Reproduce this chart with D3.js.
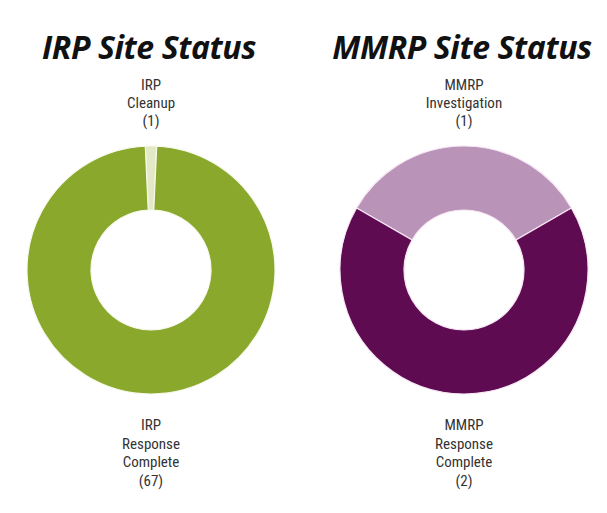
<!DOCTYPE html>
<html>
<head>
<meta charset="utf-8">
<script src="https://cdn.jsdelivr.net/npm/d3@7"></script>
<style>
  body { margin: 0; background: #fff; }
  svg text { fill: #222; }
</style>
</head>
<body>
<div id="chart"></div>
<script>
// Chart data
var irpCategories = ["IRP Cleanup", "IRP Response Complete"];
var irpValues = [1, 67];
var irpLabels = [["IRP", "Cleanup", "(1)"], ["IRP", "Response", "Complete", "(67)"]];

var mmrpCategories = ["MMRP Investigation", "MMRP Response Complete"];
var mmrpValues = [1, 2];
var mmrpLabels = [["MMRP", "Investigation", "(1)"], ["MMRP", "Response", "Complete", "(2)"]];

var titles = ["IRP Site Status", "MMRP Site Status"];

var width = 607, height = 513;

var svg = d3.select("#chart").append("svg")
    .attr("width", width)
    .attr("height", height);

// Draw one donut with title and labels
function drawDonut(cx, title, categories, values, labels, colors, strokeColor) {
    var cy = 270, outer = 124, inner = 60;

    svg.append("text")
        .attr("x", cx - 2)
        .attr("y", 59)
        .attr("text-anchor", "middle")
        .style("font-family", "'Open Sans', sans-serif")
        .style("font-weight", "bold")
        .style("font-style", "italic")
        .style("font-size", "32px")
        .style("letter-spacing", "-0.4px")
        .style("fill", "#111")
        .text(title);

    // first slice centred at the top
    var half = Math.PI * values[0] / d3.sum(values);
    var pie = d3.pie().sort(null).value(function(d) { return d; })
        .startAngle(-half).endAngle(2 * Math.PI - half);
    var arc = d3.arc().innerRadius(inner).outerRadius(outer);

    var g = svg.append("g").attr("transform", "translate(" + cx + "," + cy + ")");
    g.selectAll("path")
        .data(pie(values))
        .enter().append("path")
        .attr("d", arc)
        .attr("fill", function(d, i) { return colors[i]; })
        .attr("stroke", strokeColor)
        .attr("stroke-width", 1.2);

    // top label
    var top = svg.append("text")
        .attr("text-anchor", "middle")
        .style("font-family", "'Liberation Sans Narrow', 'Roboto Condensed', sans-serif")
        .style("font-size", "15px")
        .style("fill", "#333");
    labels[0].forEach(function(line, i) {
        top.append("tspan").attr("x", cx).attr("y", 90 + i * 18).text(line);
    });

    var bottom = svg.append("text")
        .attr("text-anchor", "middle")
        .style("font-family", "'Liberation Sans Narrow', 'Roboto Condensed', sans-serif")
        .style("font-size", "15px")
        .style("fill", "#333");
    labels[1].forEach(function(line, i) {
        bottom.append("tspan").attr("x", cx).attr("y", 430 + i * 18.5).text(line);
    });
}

drawDonut(151, titles[0], irpCategories, irpValues, irpLabels, ["#e3e9c6", "#8aa82c"], "#f6f8ec");
drawDonut(464, titles[1], mmrpCategories, mmrpValues, mmrpLabels, ["#b994b8", "#5e0b52"], "#f7e6f4");
</script>
</body>
</html>
